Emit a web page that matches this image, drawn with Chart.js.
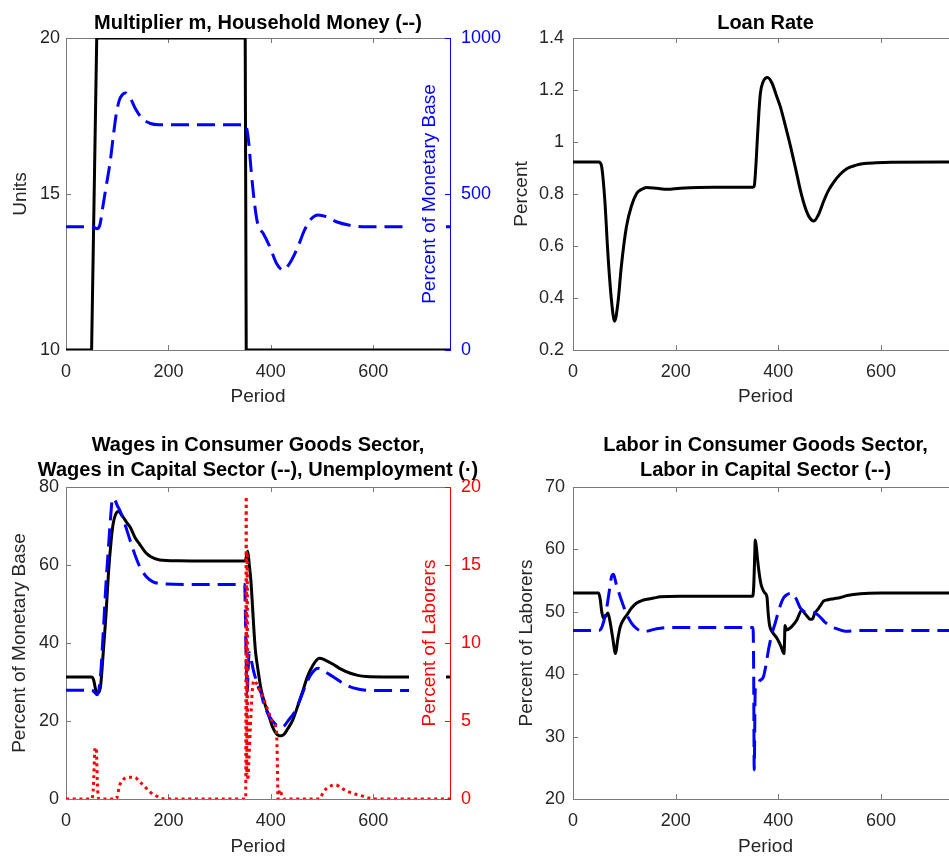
<!DOCTYPE html>
<html>
<head>
<meta charset="utf-8">
<script src="https://cdn.jsdelivr.net/npm/chart.js@4.4.1/dist/chart.umd.min.js"></script>
<style>
  html, body { margin: 0; padding: 0; background: #fff; overflow: hidden; width: 949px; height: 856px; }
  canvas { position: absolute; }
</style>
</head>
<body>
<canvas id="multChart" width="520" height="430" style="left:0;top:0"></canvas>
<canvas id="loanChart" width="470" height="430" style="left:500px;top:0"></canvas>
<canvas id="wageChart" width="520" height="440" style="left:0;top:430px"></canvas>
<canvas id="laborChart" width="470" height="440" style="left:500px;top:430px"></canvas>
<script>
const periodTicks = [0, 200, 400, 600];
const unitsTicks = [10, 15, 20];
const moneyTicks = [0, 500, 1000];
const loanTicks = [0.2, 0.4, 0.6, 0.8, 1, 1.2, 1.4];
const wageTicks = [0, 20, 40, 60, 80];
const unempTicks = [0, 5, 10, 15, 20];
const laborTicks = [20, 30, 40, 50, 60, 70];

// multiplier m (left axis, units)
const multPeriods = [0, 50, 60, 350, 352, 750];
const multValues = [10, 10, 20, 20, 10, 10];

// household money (right axis, percent of monetary base)
const moneyPeriods = [0, 50, 56, 60, 66, 72, 79, 86, 92, 98, 104, 110, 116, 124, 137, 150, 165, 180, 250, 350,
  353, 357, 362, 369, 375, 385, 398, 411, 424, 437, 453, 466, 480, 492, 509, 528, 554, 587, 650, 750];
const moneyValues = [395, 395, 392, 389, 400, 460, 530, 600, 680, 755, 800, 818, 824, 812, 769, 740, 726, 722, 722, 722,
  710, 663, 567, 459, 400, 374, 331, 278, 256, 278, 331, 385, 422, 433, 427, 411, 400, 395, 395, 395];

// loan rate
const loanPeriods = [0, 50, 53, 56, 62, 68, 75, 81, 88, 94, 104, 114, 124, 134, 143, 163, 183, 209, 274, 350,
  353, 356, 359, 362, 365, 370, 379, 388, 396, 404, 414, 424, 434, 443, 452, 460, 469, 478, 489, 498,
  508, 520, 534, 550, 567, 590, 620, 750];
const loanValues = [0.923, 0.923, 0.92, 0.904, 0.776, 0.57, 0.39, 0.311, 0.39, 0.519, 0.673, 0.755, 0.802, 0.818, 0.825, 0.822, 0.818, 0.822, 0.826, 0.826,
  0.83, 0.9, 1.007, 1.11, 1.187, 1.23, 1.248, 1.225, 1.18, 1.135, 1.06, 0.981, 0.895, 0.814, 0.75, 0.712, 0.696, 0.72, 0.776, 0.815,
  0.846, 0.875, 0.898, 0.91, 0.917, 0.92, 0.922, 0.923];

// wages in consumer goods sector
const wageConsPeriods = [0, 50, 54, 58, 61, 67, 73, 78, 83, 88, 92, 97, 102, 110, 118, 125, 135, 144, 155, 165,
  183, 220, 300, 350, 352, 355, 358, 361, 364, 367, 370, 374, 380, 385, 390, 397, 403, 410, 415, 420,
  426, 433, 443, 453, 463, 472, 482, 490, 495, 505, 521, 537, 554, 570, 587, 620, 750];
const wageConsValues = [31.3, 31.3, 30.5, 28, 27.1, 28.5, 38, 47, 58, 66, 70.5, 73, 73.7, 72.6, 71, 69.8, 67, 65.3, 63.3, 62.2,
  61.3, 61.1, 61, 61, 62, 63.5, 60, 56.2, 50, 43.4, 38, 34, 28.8, 26, 23.7, 21, 18.6, 16.9, 16.3, 16.2,
  16.6, 18, 20.3, 24, 27.9, 31.5, 34.2, 35.7, 36.1, 35.7, 34.6, 33.3, 32.3, 31.7, 31.4, 31.3, 31.3];

// wages in capital sector
const wageCapPeriods = [0, 50, 55, 61, 67, 73, 78, 83, 87, 91, 96, 101, 105, 115, 125, 135, 144, 157, 170, 195,
  250, 349, 350, 352, 354, 356, 358, 362, 366, 371, 376, 381, 386, 392, 398, 405, 412, 418, 425, 435,
  445, 455, 466, 476, 485, 492, 500, 510, 521, 537, 554, 570, 587, 620, 750];
const wageCapValues = [27.9, 27.9, 27.5, 26.7, 31, 43.3, 55, 64.7, 72, 77.1, 76.5, 75, 74.1, 70.5, 66.4, 62.5, 59.6, 57, 55.7, 55.1,
  55, 55, 50, 35, 27.5, 34, 37.5, 35.5, 33, 30.6, 28.5, 27.2, 24.5, 22.5, 21, 19.8, 18.8, 18.4, 18.6, 20.3,
  22, 24.8, 28.5, 31.4, 33, 33.5, 33.2, 32.3, 31.4, 30, 28.8, 28.2, 27.9, 27.8, 27.8];

// unemployment (right axis, percent of laborers)
const unempPeriods = [0, 50, 53, 57, 59, 62, 65, 98, 105, 111, 120, 134, 144, 154, 163, 173, 186, 196, 350, 351,
  352, 353, 354, 355, 357, 360, 364, 367, 372, 378, 385, 392, 400, 406, 411, 413, 414, 416, 418, 421,
  425, 495, 503, 514, 527, 538, 551, 564, 578, 591, 605, 750];
const unempValues = [0, 0, 0.5, 3.3, 3.2, 0.5, 0, 0, 0.9, 1.22, 1.39, 1.39, 1.11, 0.79, 0.47, 0.26, 0.05, 0, 0, 0,
  19.4, 1.5, 15.8, 1.2, 2.3, 4.5, 7, 7.6, 7.4, 7, 6.5, 5.9, 5.2, 4.8, 4.4, 2, 0, 0.4, 0.6, 0.3,
  0, 0, 0.47, 0.79, 0.9, 0.69, 0.47, 0.32, 0.2, 0.07, 0, 0];

// labor in consumer goods sector
const laborConsPeriods = [0, 50, 53, 56, 59, 63, 68, 72, 77, 83, 87, 92, 98, 105, 114, 124, 134, 144, 157, 170,
  209, 350, 352, 354, 355, 357, 360, 363, 366, 370, 374, 378, 380, 383, 388, 397, 405, 411, 412, 413,
  416, 423, 430, 436, 446, 451, 456, 462, 467, 471, 476, 482, 488, 495, 508, 521, 534, 560, 600, 750];
const laborConsValues = [53, 53, 52, 50, 49, 49.2, 49.8, 48.5, 46, 43.3, 45.5, 47.6, 48.7, 49.5, 50.6, 51.4, 51.8, 52, 52.2, 52.4,
  52.5, 52.5, 54, 59, 61.5, 60.5, 58, 56, 54.5, 53.5, 53, 52.3, 50, 47.8, 46.8, 45.8, 44.5, 43.3, 45, 47.8,
  47.1, 47.4, 48, 48.7, 50.3, 49.8, 49.3, 48.8, 48.9, 49.8, 50.3, 51, 51.7, 51.9, 52.1, 52.3, 52.6, 52.9, 53, 53];

// labor in capital sector
const laborCapPeriods = [0, 50, 55, 60, 66, 71, 75, 79, 84, 92, 98, 105, 114, 124, 137, 150, 163, 196, 350, 351,
  352, 353, 355, 358, 364, 371, 376, 381, 388, 394, 401, 410, 418, 426, 434, 443, 453, 465, 477, 490,
  500, 510, 531, 560, 750];
const laborCapValues = [47, 47, 47.3, 48.5, 50.8, 53.5, 55.6, 56, 54.5, 52.4, 51, 49.5, 48.2, 47.3, 46.8, 47, 47.3, 47.5, 47.5, 47,
  40, 24.7, 37.5, 38.3, 39, 39.6, 41.5, 44, 46.6, 48.2, 50.3, 52.2, 52.8, 53, 52.2, 50.6, 50, 50, 49.5, 48.4,
  47.8, 47.4, 46.9, 47, 47];

const FONT = '"Liberation Sans", Arial, Helvetica, sans-serif';
const AXIS_GRAY = '#7a7a7a';
const TEXT_DARK = '#262626';
const TICK_LEN = 5;

Chart.defaults.font.family = FONT;

function pts(xs, ys) {
  return xs.map((x, i) => ({ x: x, y: ys[i] }));
}

function tickSetter(values) {
  return scale => { scale.ticks = values.map(v => ({ value: v })); };
}

const matlabFrame = {
  id: 'matlabFrame',
  beforeDatasetsDraw(chart, args, opts) {
    const { ctx, chartArea: a, scales } = chart;
    const y2 = scales.y2;
    ctx.save();
    ctx.lineWidth = 1;
    ctx.strokeStyle = AXIS_GRAY;
    ctx.beginPath();
    ctx.moveTo(a.left, a.top + 0.5);
    ctx.lineTo(a.right, a.top + 0.5);
    if (!y2) {
      ctx.moveTo(a.right - 0.5, a.top);
      ctx.lineTo(a.right - 0.5, a.bottom);
    }
    scales.x.ticks.forEach(t => {
      const px = Math.round(scales.x.getPixelForValue(t.value)) + 0.5;
      ctx.moveTo(px, a.bottom);
      ctx.lineTo(px, a.bottom - TICK_LEN);
      ctx.moveTo(px, a.top);
      ctx.lineTo(px, a.top + TICK_LEN);
    });
    scales.y.ticks.forEach(t => {
      const py = Math.round(scales.y.getPixelForValue(t.value)) + 0.5;
      ctx.moveTo(a.left, py);
      ctx.lineTo(a.left + TICK_LEN, py);
      if (!y2) {
        ctx.moveTo(a.right, py);
        ctx.lineTo(a.right - TICK_LEN, py);
      }
    });
    ctx.stroke();
    ctx.restore();
  },
  afterDatasetsDraw(chart, args, opts) {
    const { ctx, chartArea: a, scales } = chart;
    const y2 = scales.y2;
    if (!y2) return;
    const cy = (a.top + a.bottom) / 2;
    ctx.save();
    ctx.font = '19px ' + FONT;
    const tw = ctx.measureText(opts.rightLabel).width;
    ctx.fillStyle = '#fff';
    ctx.fillRect(a.right - 41, cy - tw / 2 - 4, 37, tw + 8);
    ctx.strokeStyle = opts.rightColor;
    ctx.lineWidth = 1;
    ctx.beginPath();
    y2.ticks.forEach(t => {
      const py = Math.round(y2.getPixelForValue(t.value)) + 0.5;
      ctx.moveTo(a.right, py);
      ctx.lineTo(a.right - TICK_LEN, py);
    });
    ctx.stroke();
    ctx.translate(a.right - 20, cy);
    ctx.rotate(-Math.PI / 2);
    ctx.fillStyle = opts.rightColor;
    ctx.textAlign = 'center';
    ctx.textBaseline = 'middle';
    ctx.fillText(opts.rightLabel, 0, 0);
    ctx.restore();
  },
  afterDraw(chart, args, opts) {
    const { ctx, chartArea: a } = chart;
    ctx.save();
    ctx.font = 'bold 20px ' + FONT;
    ctx.fillStyle = '#000';
    ctx.textAlign = 'center';
    ctx.textBaseline = 'middle';
    opts.title.forEach((line, i) => {
      ctx.fillText(line, (a.left + a.right) / 2, opts.titleY + i * 25);
    });
    ctx.restore();
  }
};

function lineSet(data, color, style, axis, order, smooth) {
  const ds = {
    data: data,
    borderColor: color,
    borderWidth: 3,
    pointRadius: 0,
    fill: false,
    yAxisID: axis,
    order: order,
    tension: 0,
    borderCapStyle: 'butt'
  };
  if (smooth) ds.cubicInterpolationMode = 'monotone';
  if (style === 'dash') ds.borderDash = [18, 8];
  if (style === 'dot') ds.borderDash = [3, 3.7];
  return ds;
}

function makePanel(id, geo, p) {
  const ctx = document.getElementById(id);
  const scales = {
    x: {
      type: 'linear',
      min: 0,
      max: 750,
      afterBuildTicks: tickSetter(periodTicks),
      afterFit: s => { s.height = geo.h - geo.b; },
      grid: { display: false, drawTicks: false },
      border: { color: AXIS_GRAY },
      ticks: { color: TEXT_DARK, padding: 11, font: { size: 18 }, callback: v => String(v) },
      title: { display: true, text: 'Period', color: TEXT_DARK, font: { size: 19 }, padding: { top: 0, bottom: geo.xTitlePad } }
    },
    y: {
      type: 'linear',
      position: 'left',
      min: p.yTicks[0],
      max: p.yTicks[p.yTicks.length - 1],
      afterBuildTicks: tickSetter(p.yTicks),
      afterFit: s => { s.width = geo.l; },
      grid: { display: false, drawTicks: false },
      border: { color: AXIS_GRAY },
      ticks: { color: TEXT_DARK, padding: geo.yPad, font: { size: 18 }, callback: v => String(v) },
      title: { display: true, text: p.yTitle, color: TEXT_DARK, font: { size: 19 }, padding: { top: geo.yTitlePad, bottom: 0 } }
    }
  };
  if (p.y2Ticks) {
    scales.y2 = {
      type: 'linear',
      position: 'right',
      min: p.y2Ticks[0],
      max: p.y2Ticks[p.y2Ticks.length - 1],
      afterBuildTicks: tickSetter(p.y2Ticks),
      afterFit: s => { s.width = geo.w - geo.r; },
      grid: { display: false, drawTicks: false },
      border: { color: p.y2Color },
      ticks: { color: p.y2Color, padding: 11, font: { size: 18 }, callback: v => String(v) }
    };
  }
  new Chart(ctx, {
    type: 'line',
    data: { datasets: p.datasets },
    options: {
      responsive: false,
      animation: false,
      events: [],
      layout: {
        autoPadding: false,
        padding: { top: geo.t, left: 0, bottom: 0, right: p.y2Ticks ? 0 : geo.w - geo.r }
      },
      plugins: {
        legend: { display: false },
        title: { display: false },
        tooltip: { enabled: false },
        matlabFrame: { title: p.title, titleY: p.titleY, rightLabel: p.y2Title, rightColor: p.y2Color }
      },
      scales: scales
    },
    plugins: [matlabFrame]
  });
}

makePanel('multChart',
  { w: 520, h: 430, l: 66, r: 450, t: 38, b: 350, xTitlePad: 21.6, yPad: 6, yTitlePad: 9 },
  {
    title: ['Multiplier m, Household Money (--)'], titleY: 23,
    yTicks: unitsTicks, yTitle: 'Units',
    y2Ticks: moneyTicks, y2Color: '#0000ff', y2Title: 'Percent of Monetary Base',
    datasets: [
      lineSet(pts(multPeriods, multValues), '#000000', 'solid', 'y', 2, false),
      lineSet(pts(moneyPeriods, moneyValues), '#0000ff', 'dash', 'y2', 1, true)
    ]
  });

makePanel('loanChart',
  { w: 470, h: 430, l: 73, r: 458, t: 38, b: 350, xTitlePad: 21.6, yPad: 9, yTitlePad: 10 },
  {
    title: ['Loan Rate'], titleY: 23,
    yTicks: loanTicks, yTitle: 'Percent',
    datasets: [
      lineSet(pts(loanPeriods, loanValues), '#000000', 'solid', 'y', 1, true)
    ]
  });

makePanel('wageChart',
  { w: 520, h: 440, l: 66, r: 450, t: 57, b: 369, xTitlePad: 11.6, yPad: 7, yTitlePad: 8.6 },
  {
    title: ['Wages in Consumer Goods Sector,', 'Wages in Capital Sector (--), Unemployment (\u00b7)'], titleY: 15,
    yTicks: wageTicks, yTitle: 'Percent of Monetary Base',
    y2Ticks: unempTicks, y2Color: '#ff0000', y2Title: 'Percent of Laborers',
    datasets: [
      lineSet(pts(wageConsPeriods, wageConsValues), '#000000', 'solid', 'y', 3, true),
      lineSet(pts(wageCapPeriods, wageCapValues), '#0000ff', 'dash', 'y', 2, true),
      lineSet(pts(unempPeriods, unempValues), '#ff0000', 'dot', 'y2', 1, true)
    ]
  });

makePanel('laborChart',
  { w: 470, h: 440, l: 73, r: 458, t: 57, b: 369, xTitlePad: 11.6, yPad: 8, yTitlePad: 15 },
  {
    title: ['Labor in Consumer Goods Sector,', 'Labor in Capital Sector (--)'], titleY: 15,
    yTicks: laborTicks, yTitle: 'Percent of Laborers',
    datasets: [
      lineSet(pts(laborConsPeriods, laborConsValues), '#000000', 'solid', 'y', 2, true),
      lineSet(pts(laborCapPeriods, laborCapValues), '#0000ff', 'dash', 'y', 1, true)
    ]
  });
</script>
</body>
</html>
